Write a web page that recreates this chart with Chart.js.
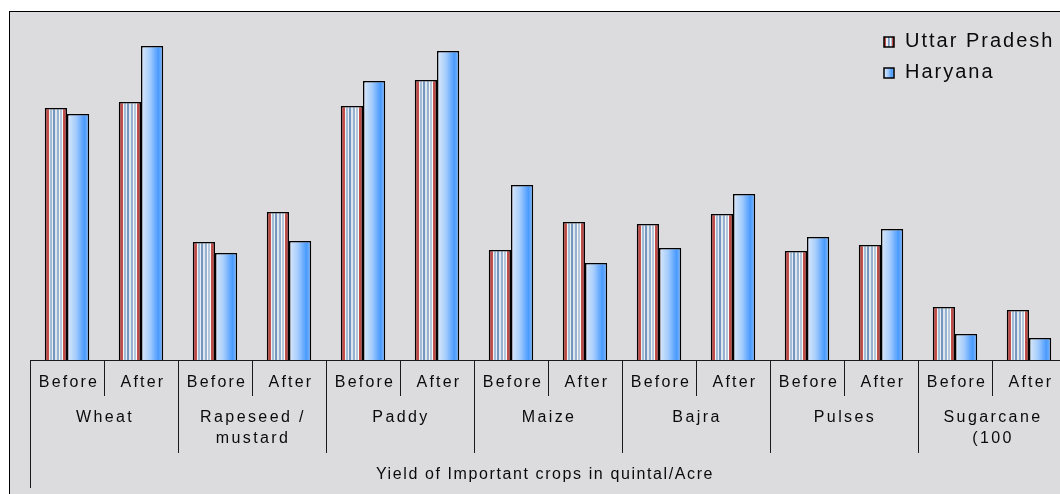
<!DOCTYPE html>
<html>
<head>
<meta charset="utf-8">
<script src="https://cdn.jsdelivr.net/npm/chart.js@4.4.1/dist/chart.umd.min.js"></script>
<style>
  html, body { margin: 0; padding: 0; background: #fff; overflow: hidden; }
  #wrap { width: 1060px; height: 494px; overflow: hidden; }
</style>
</head>
<body>
<div id="wrap"><canvas id="yieldChart" width="1070" height="494"></canvas></div>
<script>
// data (quintal/acre, sugarcane in 100 quintal)
const crops = [['Wheat'], ['Rapeseed /', 'mustard'], ['Paddy'], ['Maize'], ['Bajra'], ['Pulses'], ['Sugarcane', '(100']];
const stages = ['Before', 'After'];
const uttarPradesh = [12.6, 12.9, 5.9, 7.4, 12.7, 14.0, 5.5, 6.9, 6.8, 7.3, 5.45, 5.75, 2.65, 2.5];
const haryana = [12.3, 15.7, 5.35, 5.95, 13.95, 15.45, 8.75, 4.85, 5.6, 8.3, 6.15, 6.55, 1.3, 1.1];
const seriesNames = ['Uttar Pradesh', 'Haryana'];
const axisTitle = 'Yield of Important crops in quintal/Acre';
const yMax = 17.45;

const labels = crops.flatMap(c => stages.map(s => c[0] + ' ' + s));
const FONT = '"Liberation Sans", Arial, sans-serif';

// striped fill for UP, blue shade for Haryana
function stripeFill(ctx, left, w) {
    const g = ctx.createLinearGradient(left, 0, left + w, 0);
    const stops = [
        [0.00, '#b0403c'], [0.19, '#c4524e'], [0.19, '#f2f2f2'], [0.25, '#f2f2f2'],
        [0.25, '#a3bcd6'], [0.33, '#a3bcd6'], [0.33, '#e6edf5'], [0.39, '#e6edf5'],
        [0.39, '#7596bd'], [0.48, '#7596bd'], [0.48, '#dde5ee'], [0.54, '#dde5ee'],
        [0.54, '#96b1cf'], [0.63, '#96b1cf'], [0.63, '#f4f6f8'], [0.70, '#f4f6f8'],
        [0.70, '#b4c6da'], [0.76, '#b4c6da'], [0.76, '#fafafa'], [0.81, '#fafafa'],
        [0.81, '#c4524e'], [1.00, '#b0403c']
    ];
    stops.forEach(s => g.addColorStop(s[0], s[1]));
    return g;
}
function blueFill(ctx, left, w) {
    const g = ctx.createLinearGradient(left, 0, left + w, 0);
    g.addColorStop(0, '#dce9f8');
    g.addColorStop(0.4, '#a6cdfd');
    g.addColorStop(0.78, '#4a9bff');
    g.addColorStop(1, '#7fbaff');
    return g;
}

function barFill(context) {
    const chart = context.chart;
    const x = chart.scales.x;
    const flat = context.datasetIndex === 0 ? '#9db6d2' : '#6aaaff';
    if (!x || context.dataIndex === undefined) return flat;
    const cw = x.getPixelForValue(1) - x.getPixelForValue(0);
    const bw = cw * 0.3;
    const left = x.getPixelForValue(context.dataIndex) - bw + context.datasetIndex * bw;
    if (!Number.isFinite(left) || !Number.isFinite(bw) || bw <= 0) return flat;
    return context.datasetIndex === 0 ? stripeFill(chart.ctx, left, bw) : blueFill(chart.ctx, left, bw);
}

const tablePlugin = {
    id: 'tablePlugin',
    beforeDraw(chart) {
        const ctx = chart.ctx;
        ctx.save();
        ctx.fillStyle = '#dcdcde';
        ctx.fillRect(9, 11, chart.width, chart.height);
        ctx.restore();
    },
    afterDraw(chart) {
        const ctx = chart.ctx;
        const x = chart.scales.x;
        const area = chart.chartArea;
        const base = Math.round(area.bottom) + 0.5;
        const cw = x.getPixelForValue(1) - x.getPixelForValue(0);
        ctx.save();
        ctx.strokeStyle = '#1a1a1a';
        ctx.lineWidth = 1;

        // axis line
        ctx.beginPath();
        ctx.moveTo(area.left, base);
        ctx.lineTo(area.right, base);
        ctx.stroke();

        ctx.fillStyle = '#0a0a0a';
        ctx.textAlign = 'center';
        ctx.textBaseline = 'middle';
        ctx.font = '16px ' + FONT;
        ctx.letterSpacing = '2.2px';

        labels.forEach((l, i) => {
            const left = Math.round(x.getPixelForValue(i) - cw / 2) + 0.5;
            const bottom = i % 2 === 0 ? (i === 0 ? 488 : 453) : 396;
            ctx.beginPath();
            ctx.moveTo(left, base);
            ctx.lineTo(left, bottom);
            ctx.stroke();
            ctx.fillText(stages[i % 2], x.getPixelForValue(i) + 2, 383);
        });

        ctx.letterSpacing = '2.4px';
        crops.forEach((c, j) => {
            const cx = (x.getPixelForValue(j * 2) + x.getPixelForValue(j * 2 + 1)) / 2;
            c.forEach((line, k) => ctx.fillText(line, cx + 1, 418 + k * 21));
        });

        ctx.letterSpacing = '1.6px';
        ctx.fillText(axisTitle, (area.left + 1060) / 2, 475);

        // legend
        ctx.textAlign = 'left';
        ctx.font = '20px ' + FONT;
        ctx.letterSpacing = '2px';
        const rows = [37, 68];
        seriesNames.forEach((name, i) => {
            const y = rows[i];
            ctx.fillStyle = i === 0 ? stripeFill(ctx, 884, 10) : blueFill(ctx, 884, 10);
            ctx.fillRect(884, y, 10, 10);
            ctx.strokeStyle = '#000';
            ctx.lineWidth = 1.5;
            ctx.strokeRect(884, y, 10, 10);
            ctx.fillStyle = '#0a0a0a';
            ctx.fillText(name, 905, y + 4);
        });

        // outer frame
        ctx.strokeStyle = '#000';
        ctx.lineWidth = 1;
        ctx.strokeRect(9.5, 11.5, chart.width, chart.height);
        ctx.restore();
    }
};

new Chart(document.getElementById('yieldChart'), {
    type: 'bar',
    data: {
        labels: labels,
        datasets: [
            { label: seriesNames[0], data: uttarPradesh, backgroundColor: barFill, borderColor: '#000', borderWidth: 1.5 },
            { label: seriesNames[1], data: haryana, backgroundColor: barFill, borderColor: '#000', borderWidth: 1.5 }
        ]
    },
    options: {
        responsive: false,
        animation: false,
        devicePixelRatio: 1,
        layout: { padding: { left: 30, right: 4, top: 11, bottom: 134 } },
        datasets: { bar: { categoryPercentage: 0.6, barPercentage: 1.0 } },
        plugins: { legend: { display: false }, tooltip: { enabled: false } },
        scales: {
            x: { display: false },
            y: { display: false, min: 0, max: yMax }
        }
    },
    plugins: [tablePlugin]
});
</script>
</body>
</html>
